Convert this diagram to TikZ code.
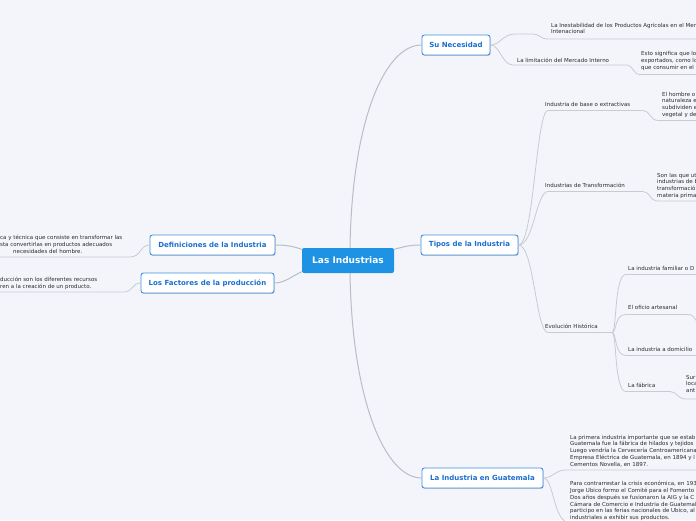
\documentclass[tikz,border=0pt]{standalone}
\usepackage{fontspec}
\setmainfont{DejaVu Sans}
\usetikzlibrary{shadows}
\definecolor{bg}{HTML}{F3F5FB}
\definecolor{rootblue}{HTML}{1E93E3}
\definecolor{topicborder}{HTML}{3F8FE0}
\definecolor{topictext}{HTML}{1A6ED2}
\definecolor{linegrey}{HTML}{C8CBD2}
\definecolor{maingrey}{HTML}{B9BDC5}
\definecolor{txt}{HTML}{2B2B2B}
\tikzset{
  rootnode/.style={fill=rootblue, rounded corners=2pt, text=white, font=\fontsize{9}{10}\selectfont\bfseries,
    minimum width=92pt, minimum height=25pt, inner sep=0pt},
  topic/.style={draw=topicborder, line width=0.9pt, fill=white, rounded corners=2.5pt, text=topictext,
    font=\fontsize{7}{8}\selectfont\bfseries, minimum height=20pt, inner sep=0pt,
    drop shadow={shadow xshift=0.6pt, shadow yshift=-0.9pt, fill=black, opacity=0.18}},
  sub/.style={anchor=north west, inner sep=0pt, align=left, text=txt, font=\fontsize{5.5}{6.8}\selectfont},
  mainline/.style={draw=maingrey, line width=1pt},
  subline/.style={draw=linegrey, line width=0.8pt},
}
\begin{document}
\begin{tikzpicture}[x=1pt,y=-1pt]
\fill[bg] (0,0) rectangle (696,520);
\useasboundingbox (0,0) rectangle (696,520);
\clip (0,0) rectangle (696,520);

% main nodes
\node[rootnode] (root) at (348,260.5) {Las Industrias};
\node[topic, minimum width=68pt] (nec) at (456,45) {Su Necesidad};
\node[topic, minimum width=97pt] (tip) at (469.5,245) {Tipos de la Industria};
\node[topic, minimum width=121pt] (gua) at (482.5,478) {La Industria en Guatemala};
\node[topic, minimum width=125pt] (def) at (212.5,245) {Definiciones de la Industria};
\node[topic, minimum width=133pt] (fac) at (207.5,283) {Los Factores de la producción};

% sub texts
\node[sub] (nec1) at (551,22.5) {La Inestabilidad de los Productos Agrícolas en el Mer\\Intenacional};
\node[sub] (nec2) at (517,57.8) {La limitación del Mercado Interno};
\node[sub] (nec2a) at (641,51.5) {Esto significa que lo\\exportados, como lo\\que consumir en el};
\node[sub] (base) at (545,101.8) {Industria de base o extractivas};
\node[sub] (basea) at (662,91.8) {El hombre o\\naturaleza e\\subdividen e\\vegetal y de};
\node[sub] (trans) at (545,182.8) {Industrias de Transformación};
\node[sub] (transa) at (657,172.8) {Son las que ut\\industrias de b\\transformació\\materia prima};
\node[sub] (evo) at (545,323.8) {Evolución Histórica};
\node[sub] (fam) at (628,265.8) {La industria familiar o D};
\node[sub] (art) at (628,304.8) {El oficio artesanal};
\node[sub] (dom) at (628,346.8) {La industria a domicilio};
\node[sub] (fab) at (628,382.8) {La fábrica};
\node[sub] (faba) at (686,374.8) {Sur\\loca\\ant};
\node[sub] (gua1) at (570,434.8) {La primera industria importante que se estab\\Guatemala fue la fábrica de hilados y tejidos\\Luego vendría la Cervecería Centroamericana\\Empresa Eléctrica de Guatemala, en 1894 y l\\Cementos Novella, en 1897.};
\node[sub] (gua2) at (570,481) {Para contrarrestar la crisis económica, en 193\\Jorge Ubico formo el Comité para el Fomento\\Dos años después se fusionaron la AIG y la C\\Cámara de Comercio e Industria de Guatemala\\participo en las ferias nacionales de Ubico, al\\industriales a exhibir sus productos.};
\node[sub] (defa) at (0,234.8) {ca y técnica que consiste en transformar las\\sta convertirlas en productos adecuados\\\hspace*{13pt}necesidades del hombre.};
\node[sub] (faca) at (0,276.8) {ducción son los diferentes recursos\\ren a la creación de un producto.};

% coordinates for free ends
\coordinate (e1) at (697,39);
\coordinate (e2) at (697,74.5);
\coordinate (e3) at (697,120.5);
\coordinate (e4) at (697,201);
\coordinate (ev) at (612,332.5);
\coordinate (e5) at (697,274.5);
\coordinate (e6) at (698,324);
\coordinate (e7) at (697,355.5);
\coordinate (e8) at (697,399);
\coordinate (e9) at (697,470);
\coordinate (e10) at (566,522);
\coordinate (l1) at (-1,257);
\coordinate (l2) at (-1,292);

% main connectors
\draw[mainline] ([xshift=2pt]root.north) .. controls (352,120) and (385,45) .. (nec.west);
\draw[mainline] ([xshift=2pt]root.south) .. controls (352,400) and (385,478) .. (gua.west);
\draw[mainline] ([yshift=-1.5pt]root.north east) .. controls (405,246.5) and (410,245) .. (tip.west);
\draw[mainline] ([yshift=-1.5pt]root.north west) .. controls (292,246) and (285,245) .. (def.east);
\draw[mainline] ([yshift=1.5pt]root.south west) .. controls (292,276) and (285,283) .. (fac.east);

% Su Necesidad
\draw[subline] (nec.east) .. controls (500,45) and (503,34) .. (515,34) -- (532,34) .. controls (540,34) and (540,39) .. (548,39) -- (e1);
\draw[subline] (nec.east) .. controls (500,45) and (502,65) .. (513,65) -- (627,65) .. controls (633,65) and (633,74.5) .. (640,74.5) -- (e2);

% Tipos
\draw[subline] (tip.east) .. controls (534,245) and (536,110.5) .. (548,110.5) -- (643,110.5) .. controls (650,110.5) and (650,120.5) .. (658,120.5) -- (e3);
\draw[subline] (tip.east) .. controls (534,245) and (536,191.5) .. (548,191.5) -- (643,191.5) .. controls (650,191.5) and (650,201) .. (657,201) -- (e4);
\draw[subline] (tip.east) .. controls (534,245) and (536,332.5) .. (548,332.5) -- (ev);
\draw[subline] (ev) .. controls (617,332.5) and (614,274.5) .. (626,274.5) -- (e5);
\draw[subline] (ev) .. controls (617,332.5) and (614,314.5) .. (626,314.5) -- (688,314.5) .. controls (693,314.5) and (695,318) .. (e6);
\draw[subline] (ev) .. controls (617,332.5) and (614,355.5) .. (626,355.5) -- (e7);
\draw[subline] (ev) .. controls (617,332.5) and (614,391.5) .. (626,391.5) -- (670,391.5) .. controls (677,391.5) and (677,399) .. (686,399) -- (e8);

% Guatemala
\draw[subline] (gua.east) .. controls (553,478) and (555,470) .. (566,470) -- (e9);
\draw[subline] (gua.east) .. controls (553,478) and (553,515) .. (e10);

% left
\draw[subline] (def.west) .. controls (140,245) and (141,257) .. (130,257) -- (l1);
\draw[subline] (fac.west) .. controls (132,283) and (133,292) .. (124,292) -- (l2);
\end{tikzpicture}
\end{document}
